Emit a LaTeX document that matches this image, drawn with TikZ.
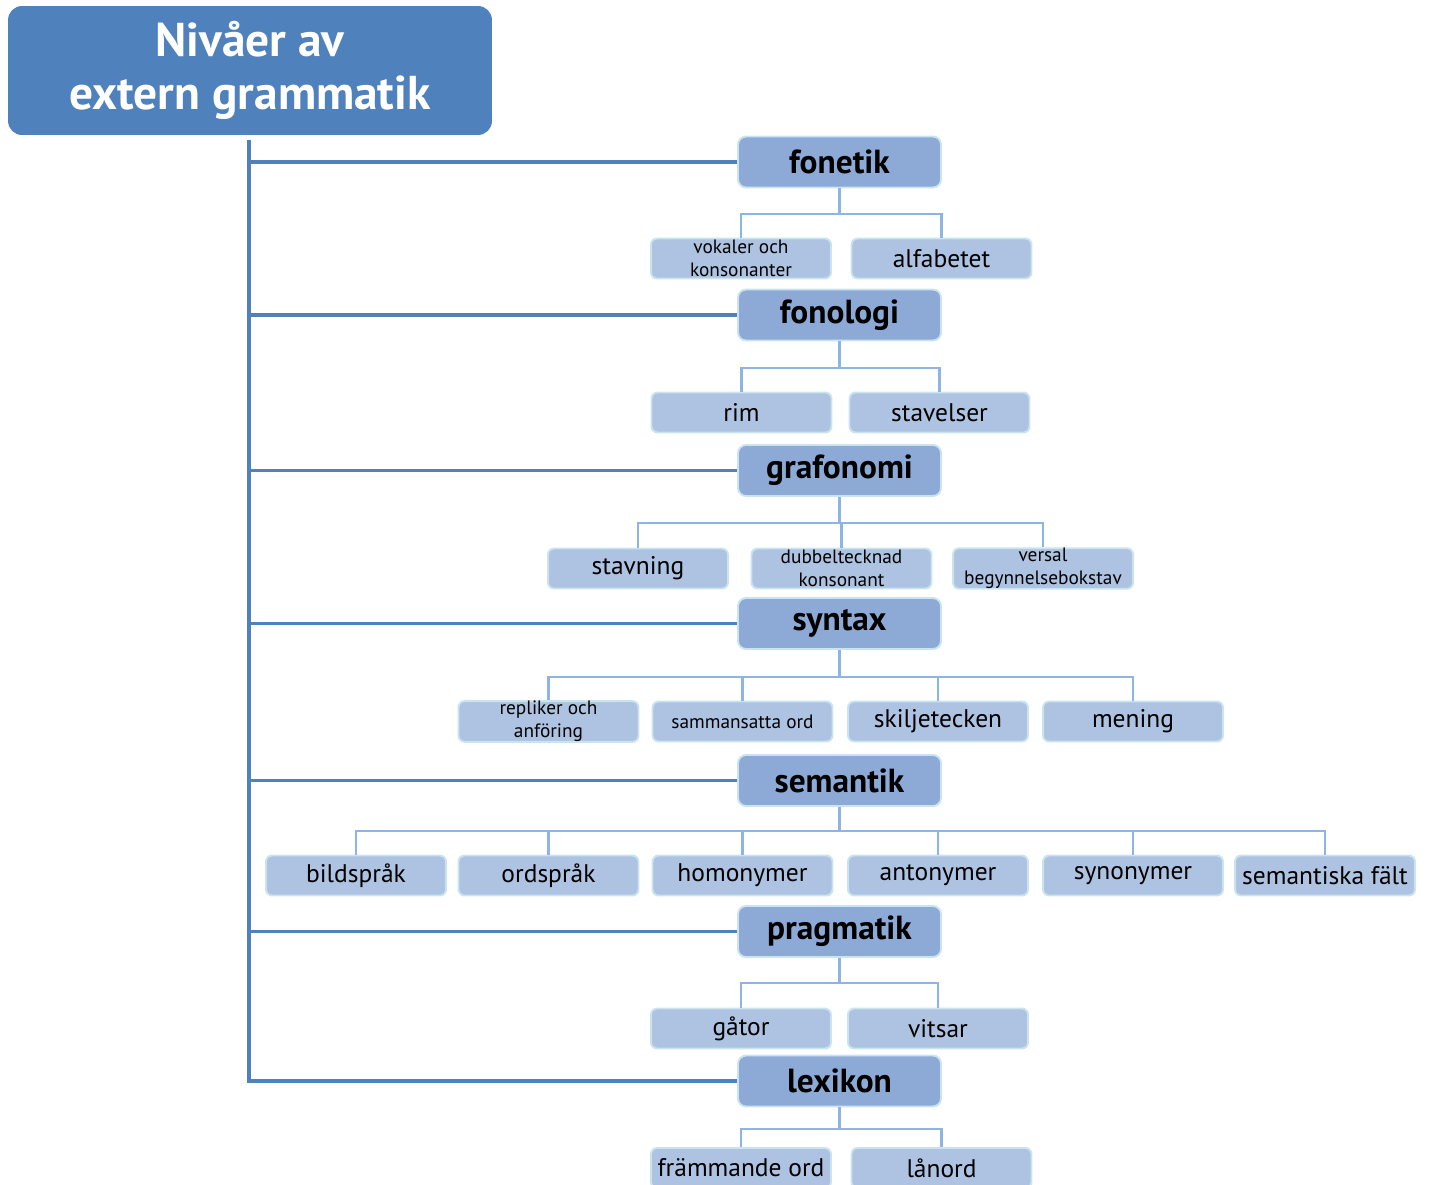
\documentclass[tikz,border=0pt]{standalone}
\usepackage{fontspec}
\setmainfont{PT Sans}
\definecolor{titleblue}{HTML}{4F81BD}
\definecolor{levelfill}{HTML}{8DAAD7}
\definecolor{leaffill}{HTML}{ADC3E1}
\definecolor{edgecyan}{HTML}{C9E4EE}
\definecolor{branchblue}{HTML}{8EB4E3}
\begin{document}
\begin{tikzpicture}[x=0.02cm,y=-0.02cm,
  titlebox/.style={fill=titleblue,draw=none,rounded corners=0.28cm,
    minimum width=9.68cm,minimum height=2.58cm,inner sep=0pt,
    text=white,font=\fontsize{27}{30.5}\selectfont\bfseries,align=center},
  levelbox/.style={fill=levelfill,draw=edgecyan,line width=1.1pt,rounded corners=0.16cm,
    minimum width=4.06cm,minimum height=1.02cm,inner sep=0pt,
    font=\fontsize{19}{22}\selectfont\bfseries},
  leafbox/.style={fill=leaffill,draw=edgecyan,line width=1.1pt,rounded corners=0.12cm,
    minimum width=3.6cm,minimum height=0.8cm,inner sep=0pt,
    font=\fontsize{14.5}{16}\selectfont,align=center},
  smallleaf/.style={leafbox,font=\fontsize{11}{13}\selectfont},
  trunk/.style={draw=titleblue,line width=2pt},
  branch/.style={draw=branchblue,line width=1.4pt}]
\useasboundingbox (0,0) rectangle (1432,1184);
\clip (0,0) rectangle (1432,1184);

% root
\node[titlebox] (root) at (250,70.5) {Nivåer av\\extern grammatik};
\coordinate (trunktop) at (249,140);

% levels
\node[levelbox] (fonetik)   at (839.5,162)   {fonetik};
\node[levelbox] (fonologi)  at (839.5,315)   {fonologi};
\node[levelbox] (grafonomi) at (839.5,470.5) {grafonomi};
\node[levelbox] (syntax)    at (839.5,623.5) {syntax};
\node[levelbox] (semantik)  at (839.5,780.5) {semantik};
\node[levelbox] (pragmatik) at (839.5,931.5) {pragmatik};
\node[levelbox] (lexikon)   at (839.5,1081)  {lexikon};

% leaves
\node[smallleaf] (vok) at (741,258.5)   {vokaler och\\konsonanter};
\node[leafbox]   (alf) at (941.5,258.5) {alfabetet};

\node[leafbox] (rim)  at (741.5,412.5) {rim};
\node[leafbox] (stav) at (939.5,412.5) {stavelser};

\node[leafbox]   (stavn) at (638,568.5)   {stavning};
\node[smallleaf] (dubb)  at (841.5,568.5) {dubbeltecknad\\konsonant};
\node[smallleaf] (vers)  at (1043,568.5)  {versal\\begynnelsebokstav};

\node[smallleaf] (repl) at (548.5,721.5) {repliker och\\anföring};
\node[smallleaf] (samm) at (742.5,721.5) {sammansatta ord};
\node[leafbox]   (skil) at (938,721.5)   {skiljetecken};
\node[leafbox]   (men)  at (1133,721.5)  {mening};

\node[leafbox] (bild) at (356,875.5)   {bildspråk};
\node[leafbox] (ords) at (548.5,875.5) {ordspråk};
\node[leafbox] (hom)  at (742.5,875.5) {homonymer};
\node[leafbox] (ant)  at (938,875.5)   {antonymer};
\node[leafbox] (syn)  at (1133,875.5)  {synonymer};
\node[leafbox] (semf) at (1325,875.5)  {semantiska fält};

\node[leafbox] (gat) at (741,1028.5) {gåtor};
\node[leafbox] (vit) at (938,1028.5) {vitsar};

\node[leafbox] (fram) at (741,1168)   {främmande ord};
\node[leafbox] (lan)  at (941.5,1168) {lånord};

% trunk and level connectors
\draw[trunk] (trunktop) |- (lexikon.west);
\foreach \lv in {fonetik,fonologi,grafonomi,syntax,semantik,pragmatik}
  \draw[trunk] (trunktop |- \lv.west) -- (\lv.west);

% branch bars
\coordinate (barA) at (839.5,214);
\coordinate (barB) at (839.5,368);
\coordinate (barC) at (839.5,523);
\coordinate (barD) at (839.5,677);
\coordinate (barE) at (839.5,831);
\coordinate (barF) at (839.5,983);
\coordinate (barG) at (839.5,1129);

\draw[branch] (fonetik.south) -- (barA);
\draw[branch] (vok.north) |- (barA) -| (alf.north);

\draw[branch] (fonologi.south) -- (barB);
\draw[branch] (rim.north) |- (barB) -| (stav.north);

\draw[branch] (grafonomi.south) -- (barC);
\draw[branch] (stavn.north) |- (barC) -| (vers.north);
\draw[branch] (dubb.north) -- (dubb.north |- barC);

\draw[branch] (syntax.south) -- (barD);
\draw[branch] (repl.north) |- (barD) -| (men.north);
\draw[branch] (samm.north) -- (samm.north |- barD);
\draw[branch] (skil.north) -- (skil.north |- barD);

\draw[branch] (semantik.south) -- (barE);
\draw[branch] (bild.north) |- (barE) -| (semf.north);
\foreach \lf in {ords,hom,ant,syn}
  \draw[branch] (\lf.north) -- (\lf.north |- barE);

\draw[branch] (pragmatik.south) -- (barF);
\draw[branch] (gat.north) |- (barF) -| (vit.north);

\draw[branch] (lexikon.south) -- (barG);
\draw[branch] (fram.north) |- (barG) -| (lan.north);
\end{tikzpicture}
\end{document}
